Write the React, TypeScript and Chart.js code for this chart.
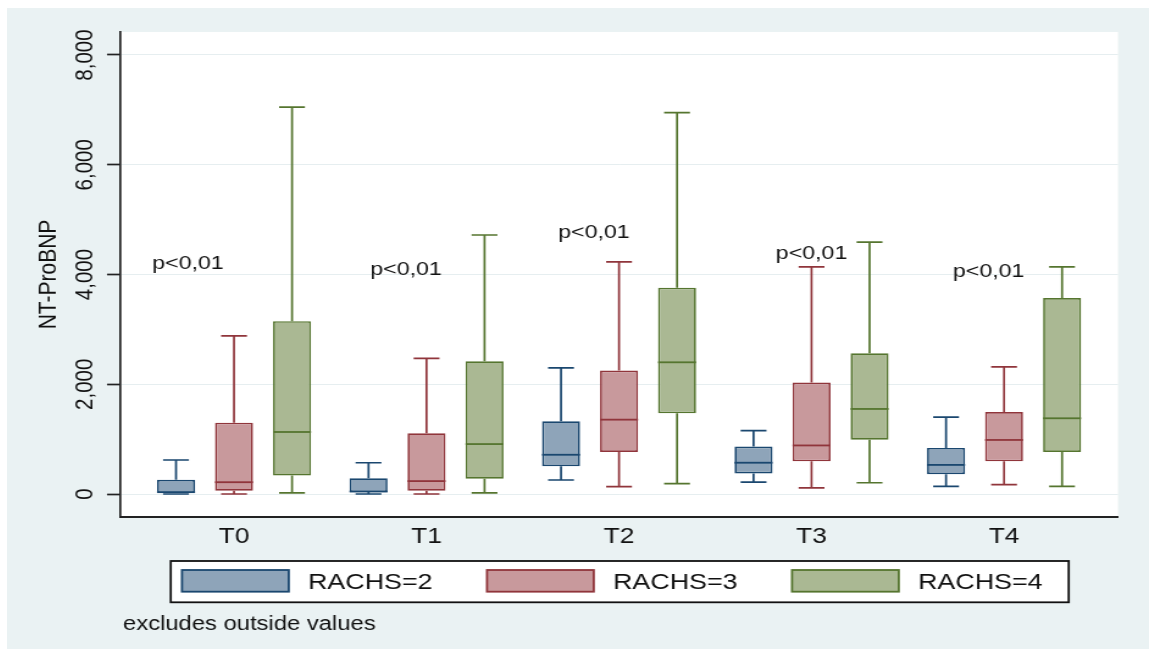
import React, { useEffect, useRef } from 'react';
import { Chart, registerables } from 'chart.js';

Chart.register(...registerables);

// ---------- data ----------
const categories = ['T0', 'T1', 'T2', 'T3', 'T4'];
const seriesLabels = ['RACHS=2', 'RACHS=3', 'RACHS=4'];

const rachs2Min = [0, 0, 255, 215, 140];
const rachs2Q1 = [15, 35, 505, 375, 360];
const rachs2Median = [35, 45, 715, 570, 530];
const rachs2Q3 = [260, 285, 1325, 865, 840];
const rachs2Max = [620, 570, 2300, 1155, 1400];

const rachs3Min = [0, 0, 135, 110, 170];
const rachs3Q1 = [60, 60, 765, 595, 595];
const rachs3Median = [215, 235, 1355, 885, 985];
const rachs3Q3 = [1300, 1105, 2250, 2030, 1495];
const rachs3Max = [2880, 2470, 4230, 4140, 2315];

const rachs4Min = [20, 20, 190, 205, 140];
const rachs4Q1 = [335, 280, 1470, 990, 765];
const rachs4Median = [1130, 910, 2400, 1550, 1380];
const rachs4Q3 = [3150, 2420, 3760, 2565, 3570];
const rachs4Max = [7050, 4720, 6950, 4590, 4140];

const yTickValues = [0, 2000, 4000, 6000, 8000];
const yAxisTitle = 'NT-ProBNP';
const footnote = 'excludes outside values';

// annotations (text placed at data coordinates)
const pLabelText = ['p<0,01', 'p<0,01', 'p<0,01', 'p<0,01', 'p<0,01'];
const pLabelIndex = [-0.239, 0.894, 1.87, 3.0, 3.92];
const pLabelValue = [4190, 4081, 4755, 4373, 4045];

// ---------- styles ----------
const FONT = '"Liberation Sans", Arial, sans-serif';
const BG = '#eaf2f3';
const TEXT = '#111111';
const lineColors = ['#1a476f', '#90353b', '#55752f'];
const fillColors = ['#8ea4b9', '#c8999c', '#aab893'];

const CANVAS_W = 936;
const CANVAS_H = 641;
const CSS_W = 1142;

const mins = [rachs2Min, rachs3Min, rachs4Min];
const q1s = [rachs2Q1, rachs3Q1, rachs4Q1];
const medians = [rachs2Median, rachs3Median, rachs4Median];
const q3s = [rachs2Q3, rachs3Q3, rachs4Q3];
const maxs = [rachs2Max, rachs3Max, rachs4Max];

const fmt = (v: number) => v.toLocaleString('en-US');

const decorPlugin = {
  id: 'statabox',
  beforeDraw(chart: any) {
    const { ctx, width, height, chartArea } = chart;
    ctx.save();
    ctx.fillStyle = BG;
    ctx.fillRect(0, 0, width, height);
    ctx.fillStyle = '#ffffff';
    ctx.fillRect(chartArea.left, chartArea.top, chartArea.right - chartArea.left, chartArea.bottom - chartArea.top);
    ctx.restore();
  },
  afterDatasetsDraw(chart: any) {
    const { ctx } = chart;
    const y = chart.scales.y;
    chart.data.datasets.forEach((_ds: any, si: number) => {
      const meta = chart.getDatasetMeta(si);
      meta.data.forEach((bar: any, i: number) => {
        const { x, width } = bar.getProps(['x', 'width'], true);
        const pMin = y.getPixelForValue(mins[si][i]);
        const pQ1 = y.getPixelForValue(q1s[si][i]);
        const pMed = y.getPixelForValue(medians[si][i]);
        const pQ3 = y.getPixelForValue(q3s[si][i]);
        const pMax = y.getPixelForValue(maxs[si][i]);
        const cap = width * 0.68;
        ctx.save();
        ctx.strokeStyle = lineColors[si];
        ctx.lineWidth = 1.7;
        ctx.beginPath();
        // upper whisker
        ctx.moveTo(x, pQ3);
        ctx.lineTo(x, pMax);
        ctx.moveTo(x - cap / 2, pMax);
        ctx.lineTo(x + cap / 2, pMax);
        // lower whisker
        ctx.moveTo(x, pQ1);
        ctx.lineTo(x, pMin);
        ctx.moveTo(x - cap / 2, pMin);
        ctx.lineTo(x + cap / 2, pMin);
        ctx.stroke();
        // median
        ctx.lineWidth = 1.8;
        ctx.beginPath();
        ctx.moveTo(x - width / 2, pMed);
        ctx.lineTo(x + width / 2, pMed);
        ctx.stroke();
        ctx.restore();
      });
    });
  },
  afterDraw(chart: any) {
    const { ctx, chartArea } = chart;
    const x = chart.scales.x;
    const y = chart.scales.y;
    ctx.save();
    ctx.fillStyle = TEXT;

    // y tick labels (vertical)
    ctx.font = `20.5px ${FONT}`;
    ctx.textAlign = 'center';
    ctx.textBaseline = 'middle';
    y.ticks.forEach((t: any) => {
      const py = y.getPixelForValue(t.value);
      ctx.save();
      ctx.translate(63.9, py);
      ctx.rotate(-Math.PI / 2);
      ctx.fillText(fmt(t.value), 0, 0);
      ctx.restore();
    });

    // y title
    ctx.font = `21px ${FONT}`;
    ctx.save();
    ctx.translate(34, (chartArea.top + chartArea.bottom) / 2);
    ctx.rotate(-Math.PI / 2);
    ctx.fillText(yAxisTitle, 0, 0);
    ctx.restore();

    // x category labels
    ctx.font = `21.5px ${FONT}`;
    categories.forEach((c, i) => {
      ctx.fillText(c, x.getPixelForValue(i), chartArea.bottom + 20.5);
    });

    // p-value annotations
    ctx.font = `19px ${FONT}`;
    pLabelText.forEach((t, i) => {
      ctx.fillText(t, x.getPixelForValue(pLabelIndex[i]), y.getPixelForValue(pLabelValue[i]));
    });

    // legend
    const lgLeft = 134.2;
    const lgTop = chartArea.bottom + 44;
    const lgW = 736;
    const lgH = 41.3;
    ctx.fillStyle = '#ffffff';
    ctx.fillRect(lgLeft, lgTop, lgW, lgH);
    ctx.strokeStyle = '#111111';
    ctx.lineWidth = 1.8;
    ctx.strokeRect(lgLeft, lgTop, lgW, lgH);
    ctx.font = `22px ${FONT}`;
    ctx.textAlign = 'left';
    ctx.textBaseline = 'middle';
    seriesLabels.forEach((lab, si) => {
      const sx = 143.4 + si * 250;
      const sy = lgTop + 9;
      ctx.fillStyle = fillColors[si];
      ctx.fillRect(sx, sy, 87.5, 21.7);
      ctx.strokeStyle = lineColors[si];
      ctx.lineWidth = 1.8;
      ctx.strokeRect(sx, sy, 87.5, 21.7);
      ctx.fillStyle = TEXT;
      ctx.fillText(lab, sx + 103.3, lgTop + 21.5);
    });

    // footnote
    ctx.font = `19.5px ${FONT}`;
    ctx.textBaseline = 'alphabetic';
    ctx.fillStyle = TEXT;
    ctx.fillText(footnote, 95.1, 622);

    ctx.restore();
  },
};

export default function App() {
  const ref = useRef<HTMLCanvasElement | null>(null);

  useEffect(() => {
    if (!ref.current) return;
    const chart = new Chart(ref.current, {
      type: 'bar',
      data: {
        datasets: seriesLabels.map((label, si) => ({
          label,
          data: categories.map((_c, i) => ({ x: i, y: [q1s[si][i], q3s[si][i]] })),
          backgroundColor: fillColors[si],
          borderColor: lineColors[si],
          borderWidth: 1.7,
          borderSkipped: false,
          barPercentage: 0.655,
          categoryPercentage: 0.904,
        })),
      } as any,
      options: {
        responsive: false,
        animation: false,
        devicePixelRatio: 1,
        layout: { padding: { left: 0, top: 24, right: 25.4, bottom: 0 } },
        plugins: { legend: { display: false }, tooltip: { enabled: false } },
        events: [],
        scales: {
          x: {
            type: 'linear',
            min: -0.5922,
            max: 4.592,
            offset: false,
            afterBuildTicks: (s: any) => {
              s.ticks = categories.map((_c, i) => ({ value: i }));
            },
            afterFit: (s: any) => {
              s.height = 132;
            },
            grid: { display: false, drawTicks: false },
            border: { display: true, color: '#222222', width: 2 },
            ticks: { display: false },
          },
          y: {
            type: 'linear',
            min: -419,
            max: 8419,
            afterBuildTicks: (s: any) => {
              s.ticks = yTickValues.map((v) => ({ value: v }));
            },
            afterFit: (s: any) => {
              s.width = 92.62;
            },
            grid: {
              color: '#e6eef0',
              lineWidth: 1,
              drawTicks: true,
              tickLength: 10.7,
              tickColor: '#222222',
              tickWidth: 1.7,
            },
            border: { display: true, color: '#222222', width: 1.7 },
            ticks: { color: 'rgba(0,0,0,0)', padding: 0, font: { size: 12 } },
          },
        },
      } as any,
      plugins: [decorPlugin],
    });
    return () => chart.destroy();
  }, []);

  return (
    <div style={{ position: 'fixed', left: 0, top: 0, width: 1155, height: 650, background: '#ffffff' }}>
      <canvas
        ref={ref}
        width={CANVAS_W}
        height={CANVAS_H}
        style={{ position: 'absolute', left: 7, top: 8, width: CSS_W, height: CANVAS_H }}
      />
    </div>
  );
}
